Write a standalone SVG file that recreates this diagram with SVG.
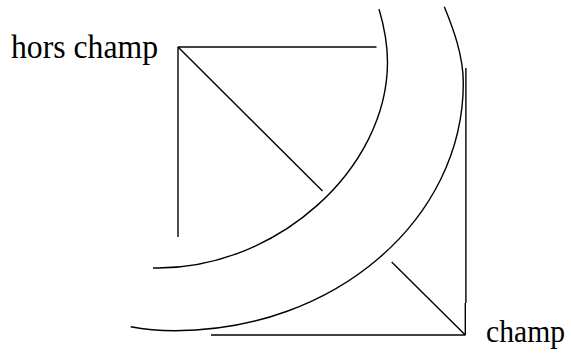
<svg xmlns="http://www.w3.org/2000/svg" width="571" height="354" viewBox="0 0 571 354">
<style>
.ln{stroke:#000;stroke-width:1.4;fill:none;stroke-linecap:butt}
</style>
<rect width="571" height="354" fill="#fff"/>
<g id="node-hors-champ"><text font-family="Liberation Serif, DejaVu Serif, serif" font-size="33" fill="#000" x="11" y="58.3" textLength="147" lengthAdjust="spacingAndGlyphs">hors champ</text></g>
<g id="node-champ"><text font-family="Liberation Serif, DejaVu Serif, serif" font-size="32" fill="#000" x="486" y="341.7" textLength="79" lengthAdjust="spacingAndGlyphs">champ</text></g>
<g id="connectors">
<line class="ln" x1="178" y1="47" x2="376.5" y2="47"/>
<line class="ln" x1="178" y1="47" x2="178" y2="237"/>
<line class="ln" x1="178" y1="47" x2="322.5" y2="191"/>
<line class="ln" x1="465.9" y1="68" x2="465.9" y2="303"/>
<line class="ln" x1="465.3" y1="303" x2="465.3" y2="335"/>
<line class="ln" x1="211" y1="335" x2="465.3" y2="335"/>
<line class="ln" x1="391.7" y1="262" x2="465.3" y2="335"/>
<path class="ln" d="M379 9 C384 26 387.5 45 387.5 62 C387.5 169 277.3 268 158 268 L153 268"/>
<path class="ln" d="M444.3 6.7 C453 28 463.3 55 463.3 83 C463.3 220 334 330.7 175 330.7 C160 330.7 145 329.5 130.7 326.7"/>
</g>
</svg>
